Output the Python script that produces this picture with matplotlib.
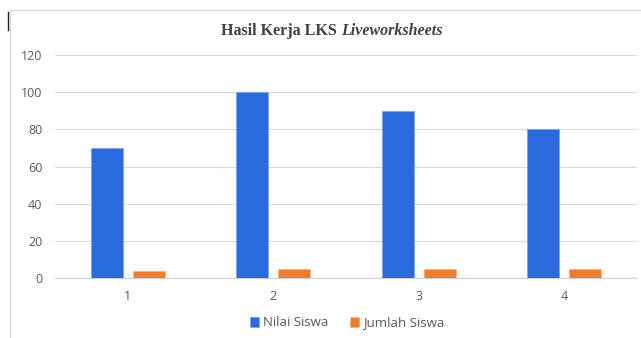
import matplotlib
matplotlib.use("Agg")
import matplotlib.pyplot as plt
import numpy as np
from matplotlib.patches import Rectangle

categories = ["1", "2", "3", "4"]
nilai_siswa = [70, 100, 90, 80]
jumlah_siswa = [4, 5, 5, 5]
yticks = [0, 20, 40, 60, 80, 100, 120]

fig = plt.figure(figsize=(6.41, 3.38), dpi=100)
ax = fig.add_axes([55/641, 1-278/338, (637-55)/641, (278-55)/338])

x = np.arange(len(categories))
w = 0.22
off = 0.145
blue = "#2b6ade"
orange = "#f47c27"
ax.bar(x - off, nilai_siswa, w, color=blue, edgecolor="#7ea6ee", linewidth=0.6, label="Nilai Siswa", zorder=3)
ax.bar(x + off, jumlah_siswa, w, color=orange, edgecolor="#f9b184", linewidth=0.6, label="Jumlah Siswa", zorder=3)

ax.set_xlim(-0.5, len(categories) - 0.5)
ax.set_ylim(0, 120)
ax.set_yticks(yticks)
ax.set_xticks(x)
ax.set_xticklabels(categories)
ax.grid(axis="y", color="#d9d9d9", linewidth=0.9, zorder=0)
for s in ["top", "right", "left"]:
    ax.spines[s].set_visible(False)
ax.spines["bottom"].set_color("#d0d0d0")
ax.tick_params(axis="both", length=0, colors="#595959", labelsize=9)
ax.tick_params(axis="x", pad=9)
ax.tick_params(axis="y", pad=9)
for lab in ax.get_xticklabels() + ax.get_yticklabels():
    lab.set_fontfamily("Open Sans")

# title
ty = 1 - 35/338
fig.text(337/641, ty, "Hasil Kerja LKS", ha="right", va="baseline",
         fontfamily="Liberation Serif", fontweight="bold", fontsize=11.5, color="#404040")
fig.text(341/641, ty, "Liveworksheets", ha="left", va="baseline",
         fontfamily="Liberation Serif", fontweight="bold", style="italic", fontsize=11.5, color="#404040")

leg = fig.legend(loc="center", bbox_to_anchor=(347/641, 1-323/338), ncol=2, frameon=False,
                 handlelength=0.7, handleheight=0.7, handletextpad=0.3, columnspacing=1.6,
                 prop={"family": "Open Sans", "size": 9.5})
for t in leg.get_texts():
    t.set_color("#595959")

# outer frame lines
fig.add_artist(Rectangle((10/641, -0.01), 640/641, 1-10/338 + 0.01, transform=fig.transFigure,
                         fill=False, edgecolor="#d9d9d9", linewidth=0.8))
fig.add_artist(plt.Line2D([8/641, 8/641], [1-12/338, 1-30/338], transform=fig.transFigure,
                          color="#202020", linewidth=1.0))

fig.savefig("out.png", dpi=100)
